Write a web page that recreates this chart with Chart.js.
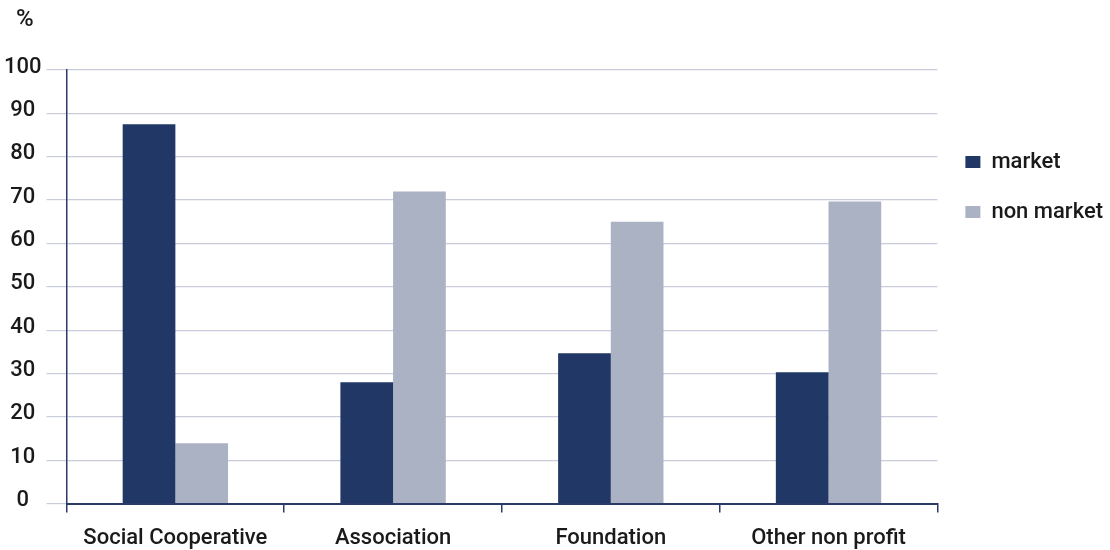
<!DOCTYPE html>
<html>
<head>
<meta charset="utf-8">
<script src="https://cdn.jsdelivr.net/npm/chart.js@4/dist/chart.umd.min.js"></script>
<style>
  html, body { margin: 0; padding: 0; background: #fff; overflow: hidden; }
  #wrap { position: relative; width: 1110px; height: 550px; }
</style>
</head>
<body>
<div id="wrap"><canvas id="chart"></canvas></div>
<script>
const categories = ["Social Cooperative", "Association", "Foundation", "Other non profit"];
const marketValues = [87.5, 28, 34.7, 30.3];
const nonMarketValues = [13.9, 72, 65, 69.7];
const yTicks = [0, 10, 20, 30, 40, 50, 60, 70, 80, 90, 100];

const DARK = '#213765';
const LIGHT = '#abb2c4';
const AXIS = '#2b3a67';
const GRID = '#c9ccda';
const TEXT = '#1a1a1a';
const FONT_SIZE = 22;

// "%" unit label top-left
const unitLabel = {
    id: 'unitLabel',
    afterDraw(chart) {
        const ctx = chart.ctx;
        ctx.save();
        ctx.font = '500 24px Roboto';
        ctx.fillStyle = TEXT;
        ctx.textBaseline = 'middle';
        ctx.fillText('%', 16, 20);
        ctx.restore();
    }
};

Chart.defaults.font.family = 'Roboto';
Chart.defaults.font.size = FONT_SIZE;
Chart.defaults.font.weight = '500';
Chart.defaults.color = TEXT;

new Chart(document.getElementById('chart').getContext('2d'), {
    type: 'bar',
    data: {
        labels: categories,
        datasets: [
            { label: 'market', data: marketValues, backgroundColor: DARK },
            { label: 'non market', data: nonMarketValues, backgroundColor: LIGHT }
        ]
    },
    options: {
        responsive: true,
        maintainAspectRatio: false,
        animation: false,
        datasets: {
            bar: { categoryPercentage: 0.484, barPercentage: 1 }
        },
        layout: {
            padding: { top: 70, left: -1, right: -3, bottom: -15 }
        },
        plugins: {
            tooltip: { enabled: false },
            legend: {
                position: 'right',
                align: 'start',
                title: { display: true, text: ' ', font: { size: 10 }, padding: { top: 41, bottom: 0 } },
                labels: {
                    boxWidth: 15,
                    boxHeight: 12,
                    padding: 28,
                    color: TEXT,
                    font: { size: FONT_SIZE, weight: '500' }
                }
            }
        },
        scales: {
            x: {
                grid: {
                    display: true,
                    offset: true,
                    drawOnChartArea: false,
                    drawTicks: true,
                    tickLength: 9,
                    color: AXIS,
                    lineWidth: 1.5
                },
                border: { display: true, color: AXIS, width: 2 },
                ticks: { padding: 13, color: TEXT, font: { size: FONT_SIZE, weight: '500' } }
            },
            y: {
                min: 0,
                max: 100,
                afterBuildTicks(axis) {
                    axis.ticks = yTicks.map(v => ({ value: v }));
                },
                grid: {
                    color: GRID,
                    lineWidth: 1.2,
                    tickLength: 20,
                    tickColor: GRID
                },
                border: { display: true, color: AXIS, width: 1.5 },
                ticks: {
                    padding: 5,
                    labelOffset: -3,
                    crossAlign: 'center',
                    color: TEXT,
                    font: { size: FONT_SIZE, weight: '500' }
                }
            }
        }
    },
    plugins: [unitLabel]
});
</script>
</body>
</html>
